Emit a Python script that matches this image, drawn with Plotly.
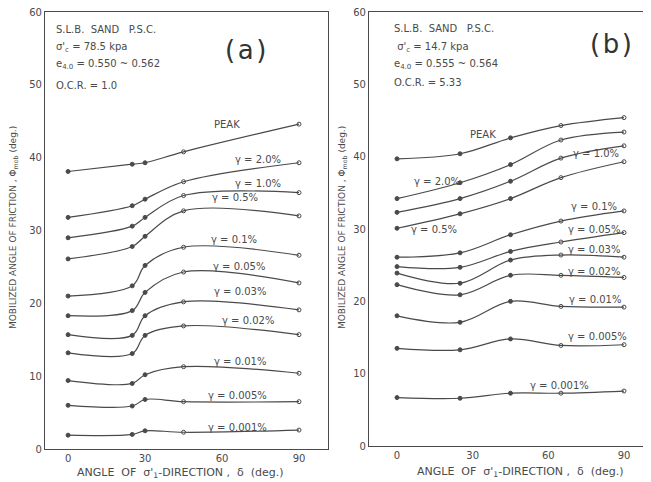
import plotly.graph_objects as go

# ---------------- data ----------------
curve_names = ["PEAK", "γ = 2.0%", "γ = 1.0%", "γ = 0.5%", "γ = 0.1%", "γ = 0.05%",
               "γ = 0.03%", "γ = 0.02%", "γ = 0.01%", "γ = 0.005%", "γ = 0.001%"]

delta_a = [0, 25, 30, 45, 90]
phi_a = [
    [38.1, 39.1, 39.3, 40.8, 44.6],
    [31.8, 33.4, 34.3, 36.7, 39.3],
    [29.0, 30.6, 31.8, 34.8, 35.2],
    [26.1, 27.8, 29.2, 32.7, 32.0],
    [21.0, 22.4, 25.2, 27.7, 26.6],
    [18.3, 19.0, 21.5, 24.3, 22.8],
    [15.7, 15.6, 18.3, 20.2, 19.1],
    [13.2, 13.1, 15.6, 16.9, 15.7],
    [9.4, 9.0, 10.2, 11.3, 10.4],
    [6.0, 5.9, 6.8, 6.5, 6.5],
    [1.9, 2.0, 2.5, 2.3, 2.6],
]

delta_b = [0, 25, 45, 65, 90]
phi_b = [
    [39.7, 40.4, 42.6, 44.3, 45.4],
    [34.2, 36.4, 38.9, 42.3, 43.4],
    [32.3, 34.2, 36.6, 39.8, 41.5],
    [30.1, 32.1, 34.2, 37.1, 39.3],
    [26.1, 26.7, 29.2, 31.1, 32.5],
    [24.8, 24.7, 26.9, 28.2, 29.5],
    [23.9, 22.5, 25.7, 26.4, 26.1],
    [22.3, 20.9, 23.6, 23.6, 23.3],
    [18.0, 17.1, 20.0, 19.3, 19.2],
    [13.5, 13.3, 14.8, 13.9, 14.0],
    [6.7, 6.6, 7.3, 7.3, 7.6],
]

x_ticks = [0, 30, 60, 90]
y_ticks = [0, 10, 20, 30, 40, 50, 60]

info_a = ["S.L.B.  SAND   P.S.C.", "σ'<sub>c</sub> = 78.5 kpa",
          "e<sub>4.0</sub> = 0.550 ~ 0.562", "O.C.R. = 1.0"]
info_b = ["S.L.B.  SAND   P.S.C.", " σ'<sub>c</sub> = 14.7 kpa",
          "e<sub>4.0</sub> = 0.555 ~ 0.564", "O.C.R. = 5.33"]

# ---------------- layout helpers ----------------
OFF = 8                      # page body margin
W, H = 651 - OFF, 482 - OFF  # figure size so that it fills the window
INK = "#4a4a4a"
FONT = "DejaVu Sans"

def px(x):
    return (x - OFF) / W

def py(y):
    return 1 - (y - OFF) / H

label_pos_a = [(62, 44.5), (74, 39.7), (74, 36.5), (65, 34.6), (64.5, 28.7), (66.5, 25.0),
               (67, 21.6), (70, 17.7), (67, 12.0), (66, 7.4), (66, 3.0)]
label_pos_b = [(34, 43.0), (16, 36.5), (79, 40.5), (14.5, 29.9), (78, 33.1), (78, 29.9),
               (78, 27.1), (78, 24.1), (78.5, 20.2), (79.5, 15.1), (64.5, 8.3)]

fig = go.Figure()

def add_panel(xs, series, xa, ya, open_from):
    for vals in series:
        symbols = ["circle" if i < open_from else "circle-open" for i in range(len(xs))]
        fig.add_trace(go.Scatter(
            x=xs, y=vals, mode="lines+markers", xaxis=xa, yaxis=ya,
            line=dict(color=INK, width=1.2, shape="spline", smoothing=1.0),
            marker=dict(size=4, color=INK, symbol=symbols, line=dict(color=INK, width=1)),
            showlegend=False, hoverinfo="skip"))

add_panel(delta_a, phi_a, "x", "y", 3)
add_panel(delta_b, phi_b, "x2", "y2", 3)

def note(x, y, text, size=10, xref="paper", yref="paper", xanchor="center",
         yanchor="middle", angle=0, color=INK, family=FONT):
    return dict(x=x, y=y, xref=xref, yref=yref, text=text, showarrow=False,
                xanchor=xanchor, yanchor=yanchor, textangle=angle,
                font=dict(size=size, color=color, family=family))

annotations = []
for name, (lx, ly) in zip(curve_names, label_pos_a):
    annotations.append(note(lx, ly, name, xref="x", yref="y"))
for name, (lx, ly) in zip(curve_names, label_pos_b):
    annotations.append(note(lx, ly, name, xref="x2", yref="y2"))

for i, yy in enumerate([29, 47, 65, 85]):
    annotations.append(note(px(54), py(yy), info_a[i], xanchor="left"))
for i, yy in enumerate([28, 47, 65, 83]):
    annotations.append(note(px(392), py(yy), info_b[i], xanchor="left"))

annotations.append(note(px(245), py(50), "(&#8202;a&#8202;)", size=26, color="#333"))
annotations.append(note(px(611), py(44), "(&#8202;b&#8202;)", size=26, color="#333"))

ytitle = "MOBILIZED ANGLE OF FRICTION , Φ<sub>mob</sub> (deg.)"
xtitle = "ANGLE  OF  σ'<sub>1</sub>-DIRECTION ,  δ  (deg.)"
annotations.append(note(px(13), py(228), ytitle, size=9, angle=-90))
annotations.append(note(px(342), py(228), ytitle, size=9, angle=-90))
annotations.append(note(px(181), py(473), xtitle, size=11))
annotations.append(note(px(520), py(472), xtitle, size=11))

axis_common = dict(showgrid=False, zeroline=False, showline=True, linecolor=INK, linewidth=1.2,
                   ticks="", automargin=False, ticklabeloverflow="allow",
                   tickfont=dict(size=10, color=INK, family=FONT))

fig.update_layout(
    width=W, height=H,
    margin=dict(l=0, r=0, t=0, b=0, autoexpand=False),
    paper_bgcolor="white", plot_bgcolor="white",
    xaxis=dict(domain=[px(45), px(328)], range=[-9, 101.3], tickvals=x_ticks,
               mirror=True, anchor="y", **axis_common),
    yaxis=dict(domain=[py(449), py(12)], range=[0, 60], tickvals=y_ticks,
               mirror=True, anchor="x", **axis_common),
    xaxis2=dict(domain=[px(369), 1.0], range=[-11.1, 100.7], tickvals=x_ticks,
                mirror=True, anchor="y2", **axis_common),
    yaxis2=dict(domain=[py(446), py(12)], range=[0, 60], tickvals=y_ticks,
                mirror=False, anchor="x2", **axis_common),
    annotations=annotations,
)

fig.write_html("out.html")
